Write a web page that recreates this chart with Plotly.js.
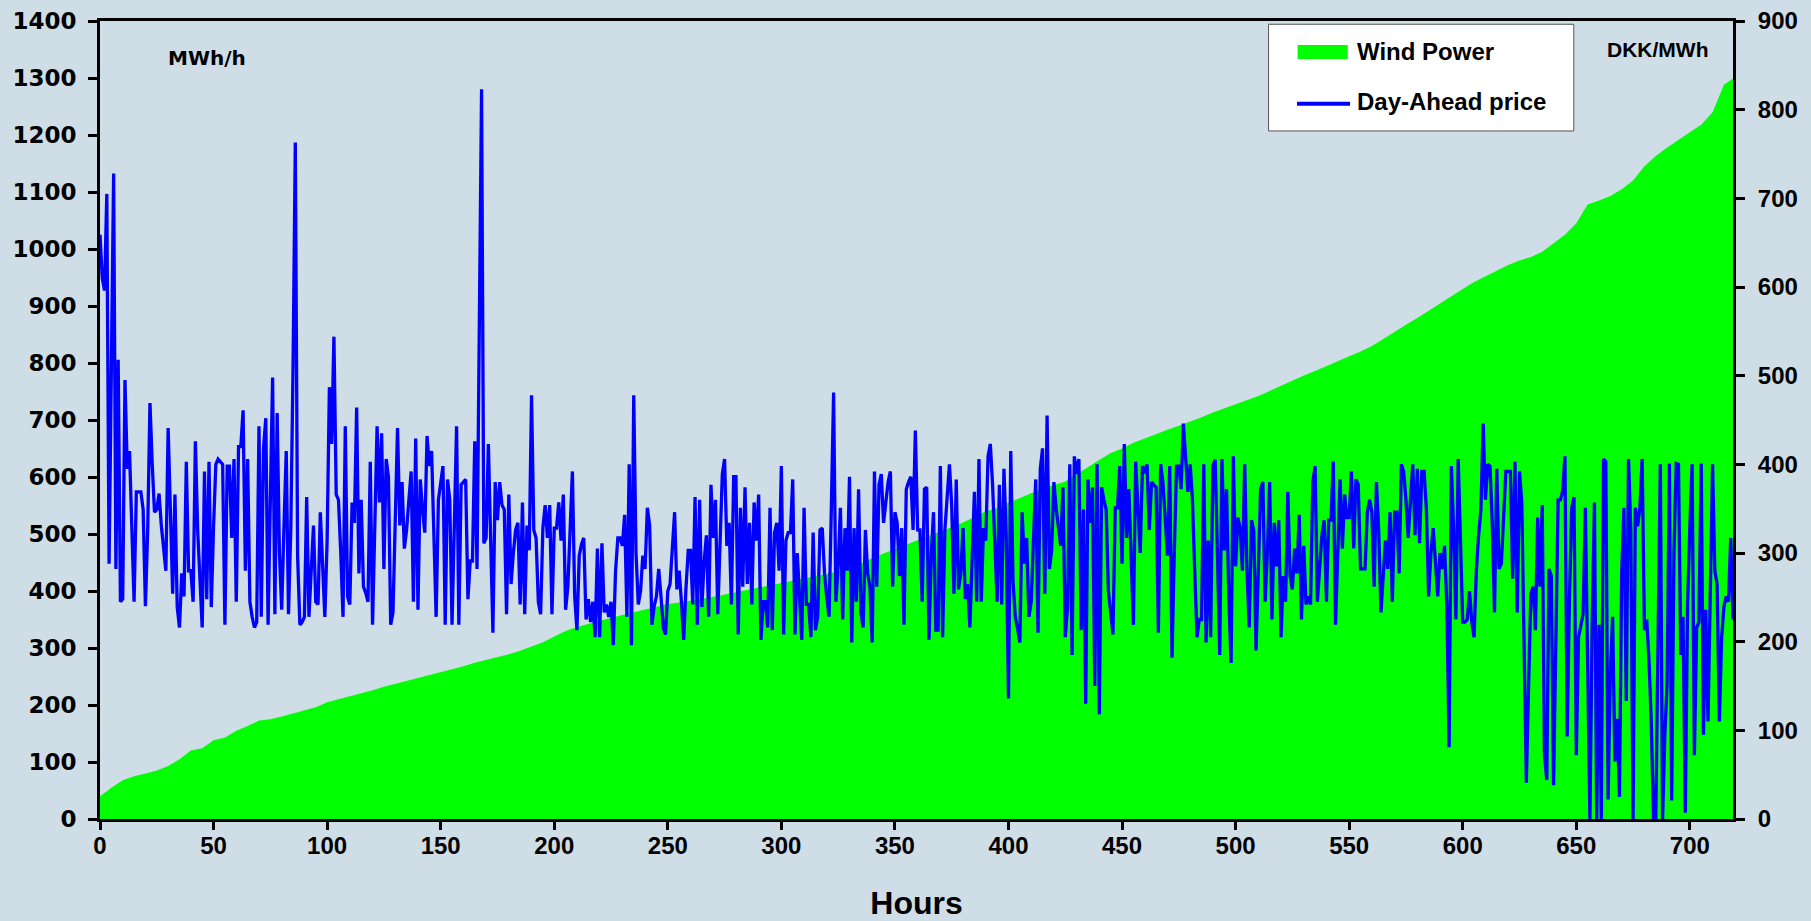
<!DOCTYPE html>
<html>
<head>
<meta charset="utf-8">
<script src="https://cdn.plot.ly/plotly-3.0.1.min.js"></script>
<style>
html, body { margin: 0; padding: 0; background: #cfdde6; }
#chart { width: 1811px; height: 921px; }
</style>
</head>
<body>
<div id="chart"></div>
<script>
// Wind power (MWh/h), read every 5 hours (sorted duration curve)
const windStep = 5;
const windPower = [
  40, 55, 68, 75, 80, 85, 93, 105, 120, 124,
  138, 143, 155, 163, 173, 175, 180, 185, 191, 196,
  205, 210, 216, 221, 226, 232, 237, 242, 248, 253,
  258, 262, 268, 274, 279, 283, 289, 295, 302, 310,
  320, 330, 337, 343, 348, 353, 358, 363, 368, 373,
  377, 380, 383, 386, 390, 394, 398, 402, 406, 410,
  415, 419, 422, 426, 430, 434, 440, 448, 458, 466,
  474, 482, 490, 497, 505, 512, 520, 530, 540, 545,
  555, 563, 572, 580, 586, 592, 605, 618, 630, 642,
  650, 660, 668, 676, 683, 690, 697, 705, 713, 720,
  727, 734, 742, 751, 760, 770, 778, 786, 795, 803,
  812, 820, 830, 842, 855, 867, 879, 892, 905, 918,
  930, 942, 952, 962, 972, 980, 986, 995, 1010, 1025,
  1045, 1078, 1085, 1093, 1105, 1120, 1145, 1163, 1178, 1192,
  1205, 1218, 1240, 1288, 1302
];

// Day-Ahead price (DKK/MWh), hourly 0..719
const dayAheadPrice = [
  659, 610, 596, 705, 288, 510, 728, 282, 518, 245,
  248, 495, 395, 415, 330, 245, 369, 369, 369, 349,
  240, 326, 469, 400, 346, 349, 367, 331, 300, 280,
  441, 330, 254, 366, 239, 216, 277, 251, 403, 280,
  280, 245, 426, 326, 270, 216, 392, 248, 403, 239,
  330, 400, 406, 403, 400, 219, 398, 398, 317, 406,
  245, 420, 420, 461, 280, 406, 245, 228, 216, 222,
  443, 228, 418, 452, 219, 360, 498, 231, 458, 300,
  236, 330, 415, 231, 326, 510, 763, 297, 219, 222,
  228, 363, 228, 280, 331, 245, 242, 346, 290, 228,
  314, 487, 423, 544, 366, 360, 300, 228, 443, 251,
  242, 357, 334, 464, 277, 360, 262, 255, 245, 403,
  219, 330, 443, 357, 435, 282, 406, 386, 219, 233,
  340, 441, 331, 380, 305, 326, 360, 392, 245, 429,
  236, 383, 350, 323, 432, 398, 415, 320, 228, 360,
  380, 398, 219, 383, 360, 219, 330, 443, 219, 377,
  380, 383, 248, 291, 291, 426, 282, 550, 823, 311,
  317, 423, 310, 210, 380, 337, 380, 354, 349, 231,
  366, 265, 300, 326, 334, 242, 357, 231, 331, 303,
  478, 326, 317, 245, 231, 328, 354, 317, 354, 231,
  328, 328, 357, 314, 366, 236, 262, 330, 392, 251,
  213, 297, 310, 317, 225, 248, 222, 245, 205, 305,
  205, 311, 233, 242, 228, 245, 196, 280, 317, 317,
  308, 343, 228, 400, 196, 478, 300, 242, 257, 297,
  282, 351, 331, 219, 240, 251, 282, 251, 216, 208,
  257, 265, 300, 346, 259, 280, 245, 202, 260, 303,
  303, 242, 363, 219, 360, 239, 290, 320, 228, 377,
  317, 360, 231, 310, 389, 406, 308, 334, 242, 386,
  386, 208, 351, 262, 374, 265, 334, 242, 357, 314,
  366, 202, 245, 245, 216, 351, 213, 323, 334, 280,
  398, 208, 314, 323, 323, 383, 208, 300, 245, 202,
  351, 242, 242, 205, 323, 213, 228, 326, 328, 277,
  250, 228, 350, 481, 245, 285, 351, 225, 328, 280,
  386, 199, 328, 245, 372, 233, 216, 326, 277, 262,
  199, 392, 262, 377, 389, 334, 357, 380, 392, 262,
  346, 334, 274, 328, 219, 372, 380, 386, 326, 438,
  326, 326, 245, 372, 374, 202, 297, 346, 213, 213,
  398, 205, 326, 360, 400, 354, 254, 383, 259, 277,
  328, 248, 265, 216, 308, 369, 245, 406, 245, 328,
  314, 409, 423, 377, 310, 245, 377, 242, 395, 320,
  136, 415, 268, 228, 215, 199, 346, 288, 317, 228,
  245, 310, 383, 210, 395, 418, 254, 455, 282, 303,
  380, 350, 331, 308, 374, 205, 239, 400, 185, 409,
  389, 406, 213, 349, 130, 383, 334, 374, 150, 400,
  118, 374, 360, 349, 257, 230, 208, 351, 351, 398,
  288, 423, 317, 372, 300, 219, 403, 357, 300, 398,
  390, 400, 326, 380, 377, 374, 210, 400, 380, 330,
  297, 398, 182, 300, 398, 398, 372, 446, 400, 369,
  400, 360, 280, 205, 225, 225, 400, 199, 314, 205,
  398, 405, 300, 185, 406, 303, 372, 250, 176, 409,
  285, 340, 328, 280, 400, 280, 216, 337, 326, 190,
  280, 372, 380, 245, 300, 380, 225, 334, 285, 337,
  205, 274, 245, 369, 274, 259, 305, 277, 343, 225,
  308, 242, 251, 242, 380, 398, 245, 290, 320, 337,
  245, 337, 337, 403, 219, 300, 383, 305, 366, 340,
  340, 392, 305, 383, 377, 282, 282, 282, 346, 360,
  346, 262, 380, 326, 233, 280, 314, 282, 346, 245,
  346, 346, 277, 400, 392, 360, 317, 360, 400, 320,
  395, 311, 392, 392, 349, 251, 300, 328, 285, 251,
  300, 282, 308, 242, 81, 398, 326, 225, 406, 300,
  222, 222, 225, 257, 222, 205, 280, 320, 349, 446,
  360, 400, 398, 334, 233, 395, 282, 288, 340, 392,
  392, 392, 271, 403, 233, 392, 357, 200, 41, 150,
  254, 262, 213, 340, 262, 354, 72, 44, 282, 274,
  38, 200, 360, 360, 370, 409, 93, 250, 351, 363,
  72, 205, 218, 231, 351, 200, 0, 219, 357, 0,
  219, 0, 406, 403, 22, 165, 228, 65, 113, 25,
  280, 351, 133, 406, 326, 0, 351, 330, 351, 406,
  213, 225, 180, 110, 0, 0, 200, 400, 0, 95,
  153, 401, 21, 300, 401, 400, 185, 228, 7, 242,
  330, 400, 72, 216, 222, 401, 95, 236, 110, 274,
  400, 280, 265, 110, 205, 239, 251, 245, 317, 225
];

const hourTicks = [0, 50, 100, 150, 200, 250, 300, 350, 400, 450, 500, 550, 600, 650, 700];
const leftTicks = [0, 100, 200, 300, 400, 500, 600, 700, 800, 900, 1000, 1100, 1200, 1300, 1400];
const rightTicks = [0, 100, 200, 300, 400, 500, 600, 700, 800, 900];
const seriesNames = ['Wind Power', 'Day-Ahead price'];
const seriesColors = ['#00ff00', '#0000ff'];

const windHours = windPower.map((_, i) => i * windStep);
const priceHours = dayAheadPrice.map((_, i) => i);

const bg = '#cfdde6';
const boldArial = { family: 'Liberation Sans, Arial, sans-serif', weight: 'bold', color: '#000000' };
const boldWide = { family: 'DejaVu Sans, Verdana, sans-serif', weight: 'bold', color: '#000000' };

const traces = [
  {
    x: windHours, y: windPower, name: seriesNames[0],
    type: 'scatter', mode: 'lines', fill: 'tozeroy',
    fillcolor: seriesColors[0], line: { color: seriesColors[0], width: 0 },
    yaxis: 'y', hoverinfo: 'skip', showlegend: false
  },
  {
    x: priceHours, y: dayAheadPrice, name: seriesNames[1],
    type: 'scatter', mode: 'lines',
    line: { color: seriesColors[1], width: 3.3 },
    yaxis: 'y2', hoverinfo: 'skip', showlegend: false
  }
];

// legend drawn as a framed box (paper coordinates)
const legendShapes = [
  { type: 'rect', xref: 'paper', yref: 'paper', x0: 0.7156, x1: 0.9025, y0: 0.8622, y1: 0.9959,
    fillcolor: '#ffffff', line: { color: '#555555', width: 1 }, layer: 'above' },
  { type: 'rect', xref: 'paper', yref: 'paper', x0: 0.7334, x1: 0.7641, y0: 0.9524, y1: 0.9699,
    fillcolor: seriesColors[0], line: { width: 0 }, layer: 'above' },
  { type: 'line', xref: 'paper', yref: 'paper', x0: 0.7330, x1: 0.7655, y0: 0.8962, y1: 0.8962,
    line: { color: seriesColors[1], width: 4 }, layer: 'above' }
];

const layout = {
  width: 1811, height: 921,
  paper_bgcolor: bg, plot_bgcolor: bg,
  margin: { l: 100, r: 78, t: 21, b: 102, pad: 0 },
  showlegend: false,
  xaxis: {
    range: [0, 719], tickvals: hourTicks, ticktext: hourTicks.map(String),
    showgrid: false, zeroline: false,
    showline: true, linecolor: '#000000', linewidth: 3, mirror: true,
    ticks: 'outside', ticklen: 8, tickwidth: 3, tickcolor: '#000000',
    ticklabelstandoff: -5,
    tickfont: Object.assign({ size: 24 }, boldArial),
    title: { text: 'Hours', font: Object.assign({ size: 32 }, boldArial), standoff: 35 }
  },
  yaxis: {
    range: [0, 1400], tickvals: leftTicks, ticktext: leftTicks.map(String),
    showgrid: false, zeroline: false,
    showline: true, linecolor: '#000000', linewidth: 3,
    ticks: 'outside', ticklen: 9, tickwidth: 3, tickcolor: '#000000',
    ticklabelstandoff: 7,
    tickfont: Object.assign({ size: 23 }, boldWide)
  },
  yaxis2: {
    range: [0, 900], tickvals: rightTicks, ticktext: rightTicks.map(String),
    overlaying: 'y', side: 'right',
    showgrid: false, zeroline: false,
    showline: true, linecolor: '#000000', linewidth: 3,
    ticks: 'outside', ticklen: 9, tickwidth: 3, tickcolor: '#000000',
    ticklabelstandoff: 8,
    tickfont: Object.assign({ size: 24 }, boldArial)
  },
  shapes: legendShapes,
  annotations: [
    { text: 'MWh/h', xref: 'paper', yref: 'paper', x: 0.0655, y: 0.9536,
      xanchor: 'center', yanchor: 'middle', showarrow: false,
      font: Object.assign({ size: 20 }, boldWide) },
    { text: 'DKK/MWh', xref: 'paper', yref: 'paper', x: 0.9535, y: 0.9637,
      xanchor: 'center', yanchor: 'middle', showarrow: false,
      font: Object.assign({ size: 21 }, boldArial) },
    { text: seriesNames[0], xref: 'paper', yref: 'paper', x: 0.7685, y: 0.9612,
      xanchor: 'left', yanchor: 'middle', showarrow: false,
      font: Object.assign({ size: 24 }, boldArial) },
    { text: seriesNames[1], xref: 'paper', yref: 'paper', x: 0.7685, y: 0.8985,
      xanchor: 'left', yanchor: 'middle', showarrow: false,
      font: Object.assign({ size: 24 }, boldArial) }
  ]
};

Plotly.newPlot('chart', traces, layout, { displayModeBar: false, staticPlot: true });
</script>
</body>
</html>
